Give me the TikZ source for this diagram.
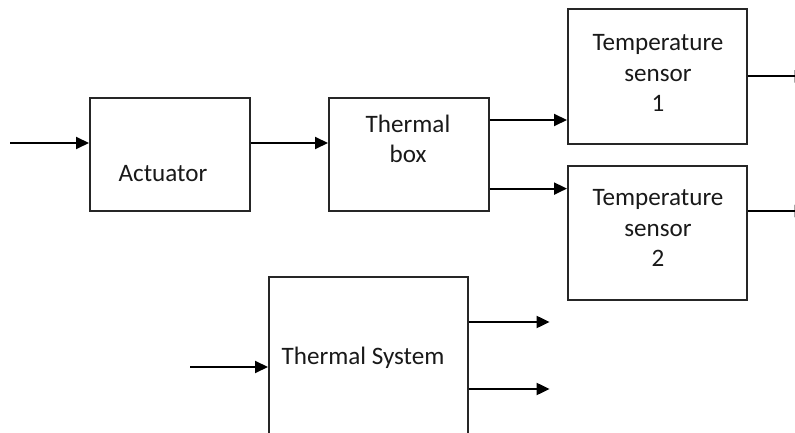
\documentclass[tikz,border=0pt]{standalone}
\usepackage{fontspec}
\setmainfont{Carlito}
\usetikzlibrary{arrows.meta}
\usetikzlibrary{calc}

\begin{document}
\begin{tikzpicture}[x=1bp, y=-1bp, font=\fontsize{25.2}{30.5}\selectfont,
  box/.style={draw=black!85, line width=1.6bp, rectangle, inner sep=0pt, anchor=north west},
  arr/.style={line width=2bp, -{Triangle[length=13bp, width=12bp]}}]
\useasboundingbox (0,0) rectangle (795,433);

% boxes
\node[box, minimum width=160bp, minimum height=113bp] (act) at (89,97) {};
\node[box, minimum width=160bp, minimum height=113bp] (box) at (328,97) {};
\node[box, minimum width=179bp, minimum height=135bp] (ts1) at (567,8) {};
\node[box, minimum width=179bp, minimum height=134bp] (ts2) at (567,165) {};
\node[box, minimum width=199bp, minimum height=180bp] (sys) at (268,276) {};

% labels
\begin{scope}[every node/.style={align=center, text=black!90}]
\node (actT) at (163,174) {Actuator};
\node (boxT) at (408,139) {Thermal\\box};
\node (ts1T) at (658,73) {Temperature\\sensor\\1};
\node (ts2T) at (658,228) {Temperature\\sensor\\2};
\node (sysT) at (363,358) {Thermal System};
\end{scope}

% coordinates
\coordinate (in1) at (10,143);
\coordinate (in2) at (190,367);
\coordinate (b1) at ($(box.north east)+(0,23)$);
\coordinate (b2) at ($(box.south east)+(0,-23)$);
\coordinate (o1) at ($(ts1.east)+(60,0)$);
\coordinate (o2) at ($(ts2.north east)+(60,46)$);
\coordinate (s1) at ($(sys.north east)+(0,46)$);
\coordinate (s2) at ($(sys.north east)+(0,113)$);

% signals
\draw[arr] (in1) -- (in1 -| act.west);
\draw[arr] (in1 -| act.east) -- (in1 -| box.west);
\draw[arr] (b1) -- (b1 -| ts1.west);
\draw[arr] (b2) -- (b2 -| ts2.west);
\draw[arr] (o1 -| ts1.east) -- (o1);
\draw[arr] (o2 -| ts2.east) -- (o2);
\draw[arr] (in2) -- (in2 -| sys.west);
\draw[arr] (s1) -- ++(81,0);
\draw[arr] (s2) -- ++(81,0);

\end{tikzpicture}
\end{document}
